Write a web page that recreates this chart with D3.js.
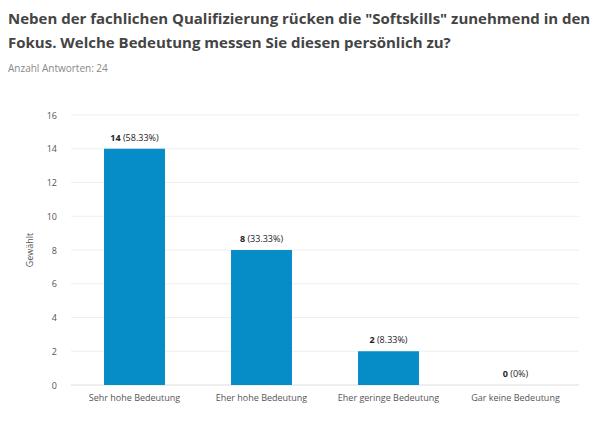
<!DOCTYPE html>
<html><head><meta charset="utf-8">
<script src="https://cdn.jsdelivr.net/npm/d3@7"></script>
<style>body{margin:0;background:#fff;font-family:"Open Sans",sans-serif}</style>
</head><body>
<svg id="c" width="598" height="422"></svg>
<script>
const categories=["Sehr hohe Bedeutung","Eher hohe Bedeutung","Eher geringe Bedeutung","Gar keine Bedeutung"];
const values=[14,8,2,0];
const percents=["58.33%","33.33%","8.33%","0%"];
const yTicks=[0,2,4,6,8,10,12,14,16];
const svg=d3.select("#c");
svg.append("text").attr("x",8).attr("y",24).attr("font-size",15).attr("font-weight",700).attr("fill","#444")
 .text('Neben der fachlichen Qualifizierung rücken die "Softskills" zunehmend in den');
svg.append("text").attr("x",8).attr("y",48).attr("font-size",15).attr("font-weight",700).attr("fill","#444")
 .text('Fokus. Welche Bedeutung messen Sie diesen persönlich zu?');
svg.append("text").attr("x",8).attr("y",72).attr("font-size",10).attr("fill","#888").text("Anzahl Antworten: 24");
const x=d3.scaleBand().domain(categories).range([71,579]).paddingInner(0.52).paddingOuter(0.26);
const y=d3.scaleLinear().domain([0,16]).range([385,115]);
const g=svg.append("g");
g.selectAll("line.grid").data(yTicks).join("line").attr("x1",71).attr("x2",579)
 .attr("y1",d=>y(d)).attr("y2",d=>y(d)).attr("stroke",d=>d===0?"#ddd":"#eee");
g.selectAll("text.yt").data(yTicks).join("text").attr("x",57).attr("y",d=>y(d)+3.5)
 .attr("text-anchor","end").attr("font-size",9).attr("fill","#555").text(d=>d);
svg.append("text").attr("transform","translate(33,250) rotate(-90)").attr("text-anchor","middle")
 .attr("font-size",9).attr("fill","#555").text("Gewählt");
g.selectAll("rect").data(values).join("rect").attr("x",(d,i)=>x(categories[i])).attr("width",x.bandwidth())
 .attr("y",d=>y(d)).attr("height",d=>y(0)-y(d)).attr("fill","#068dc8");
const lab=g.selectAll("text.v").data(values).join("text").attr("x",(d,i)=>x(categories[i])+x.bandwidth()/2)
 .attr("y",d=>y(d)-8).attr("text-anchor","middle").attr("font-size",9).attr("fill","#222");
lab.append("tspan").attr("font-weight",700).text(d=>d);
lab.append("tspan").text((d,i)=>" ("+percents[i]+")");
g.selectAll("text.xl").data(categories).join("text").attr("x",d=>x(d)+x.bandwidth()/2).attr("y",401)
 .attr("text-anchor","middle").attr("font-size",9).attr("fill","#555").text(d=>d);
</script></body></html>
